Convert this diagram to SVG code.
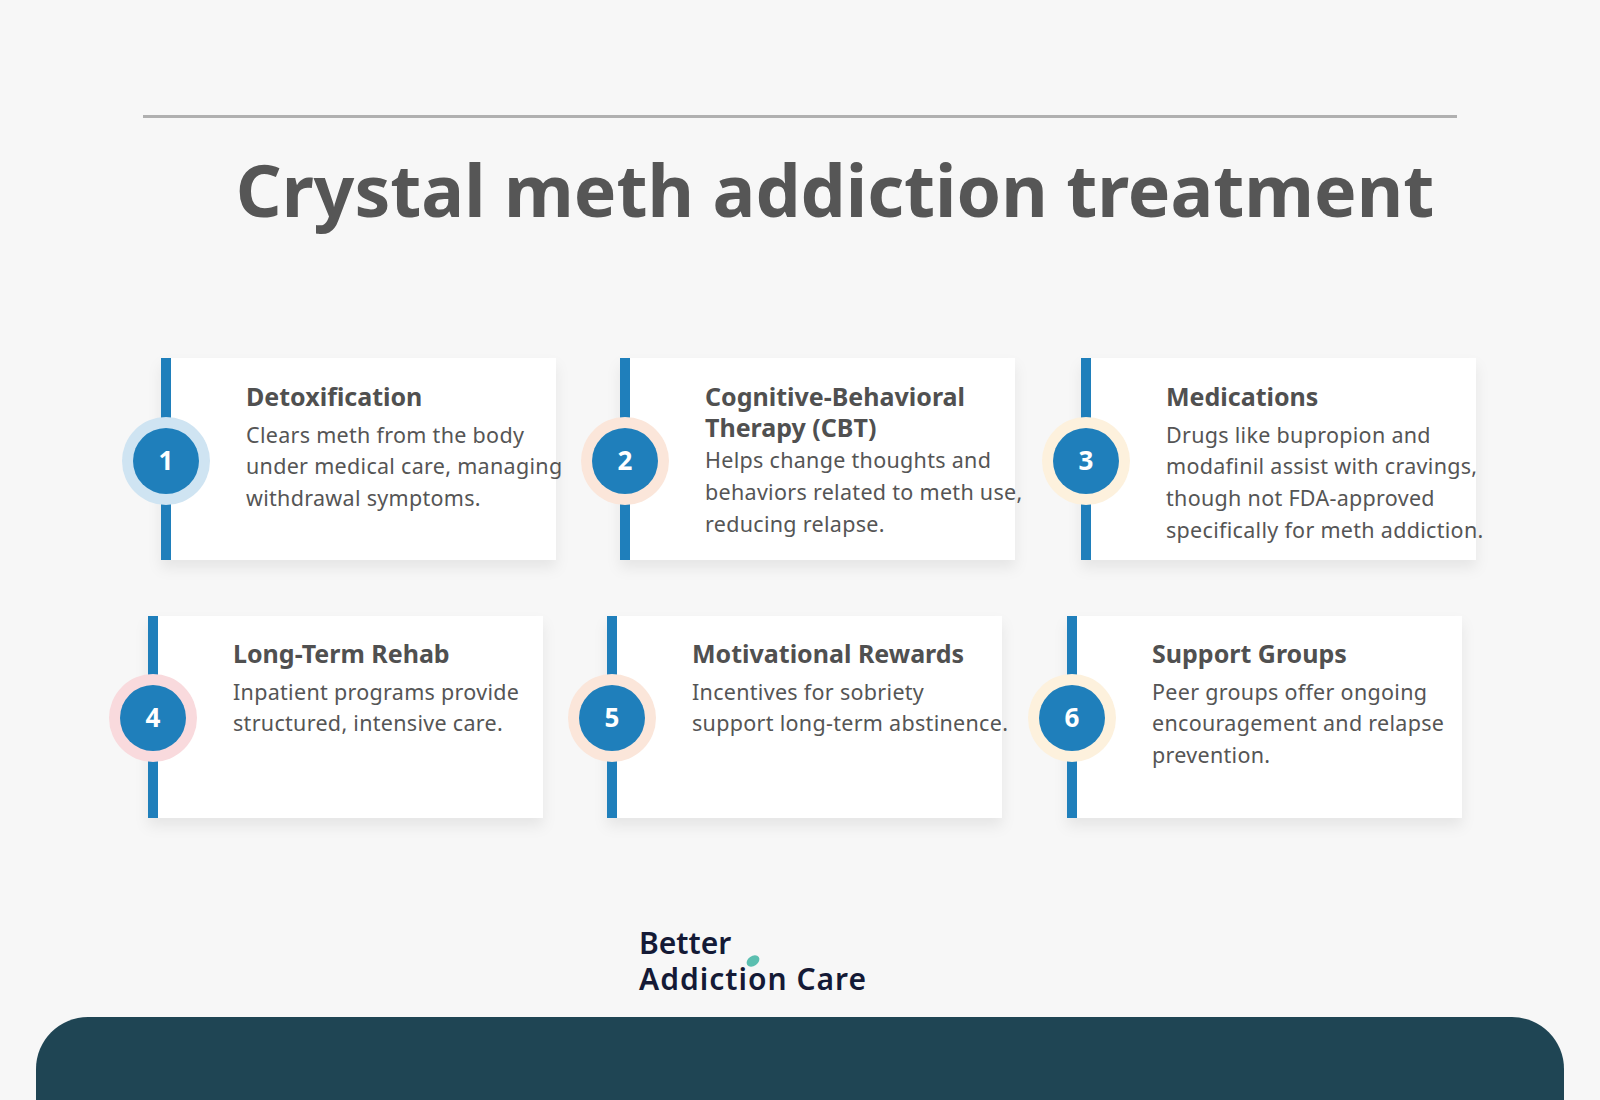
<svg xmlns="http://www.w3.org/2000/svg" width="1600" height="1100" viewBox="0 0 1600 1100">
<defs>
<filter id="sh" x="-10%" y="-10%" width="120%" height="140%"><feDropShadow dx="0" dy="8" stdDeviation="7" flood-color="#000" flood-opacity="0.07"/></filter>
<style>
.card{fill:#fff;filter:url(#sh)}
.bar{fill:#1f7fbb}
.num{fill:#1f7fbb}
.nt{font-family:"Noto Sans","Open Sans",sans-serif;font-weight:700;font-size:26px;fill:#fff;text-anchor:middle}
.h{font-family:"Noto Sans","Open Sans",sans-serif;font-weight:700;font-size:25px;fill:#505050}
.d{font-family:"Noto Sans","Open Sans",sans-serif;font-size:21.5px;fill:#555;letter-spacing:0.3px}
</style>
</defs>
<rect width="1600" height="1100" fill="#f7f7f7"/>
<line x1="143" y1="116.5" x2="1457" y2="116.5" stroke="#b0b0b0" stroke-width="3"/>
<text x="835" y="217" text-anchor="middle" font-family="Noto Sans,'Open Sans',sans-serif" font-weight="700" font-size="71.5" fill="#565656">Crystal meth addiction treatment</text>

<g id="n1">
<rect class="card" x="161" y="358" width="395" height="202"/><rect class="bar" x="161" y="358" width="10" height="202"/>
<circle cx="166" cy="461" r="44" fill="#cfe4f2"/><circle class="num" cx="166" cy="461" r="33"/>
<text class="nt" x="166" y="470">1</text>
<text class="h" x="246" y="406">Detoxification</text>
<text class="d" x="246" y="443">Clears meth from the body</text>
<text class="d" x="246" y="474">under medical care, managing</text>
<text class="d" x="246" y="506">withdrawal symptoms.</text>
</g>
<g id="n2">
<rect class="card" x="620" y="358" width="395" height="202"/><rect class="bar" x="620" y="358" width="10" height="202"/>
<circle cx="625" cy="461" r="44" fill="#fbe6da"/><circle class="num" cx="625" cy="461" r="33"/>
<text class="nt" x="625" y="470">2</text>
<text class="h" x="705" y="406">Cognitive-Behavioral</text>
<text class="h" x="705" y="437">Therapy (CBT)</text>
<text class="d" x="705" y="468">Helps change thoughts and</text>
<text class="d" x="705" y="500">behaviors related to meth use,</text>
<text class="d" x="705" y="532">reducing relapse.</text>
</g>
<g id="n3">
<rect class="card" x="1081" y="358" width="395" height="202"/><rect class="bar" x="1081" y="358" width="10" height="202"/>
<circle cx="1086" cy="461" r="44" fill="#fdf1dd"/><circle class="num" cx="1086" cy="461" r="33"/>
<text class="nt" x="1086" y="470">3</text>
<text class="h" x="1166" y="406">Medications</text>
<text class="d" x="1166" y="443">Drugs like bupropion and</text>
<text class="d" x="1166" y="474">modafinil assist with cravings,</text>
<text class="d" x="1166" y="506">though not FDA-approved</text>
<text class="d" x="1166" y="538">specifically for meth addiction.</text>
</g>
<g id="n4">
<rect class="card" x="148" y="616" width="395" height="202"/><rect class="bar" x="148" y="616" width="10" height="202"/>
<circle cx="153" cy="718" r="44" fill="#f9dadd"/><circle class="num" cx="153" cy="718" r="33"/>
<text class="nt" x="153" y="727">4</text>
<text class="h" x="233" y="663">Long-Term Rehab</text>
<text class="d" x="233" y="700">Inpatient programs provide</text>
<text class="d" x="233" y="731">structured, intensive care.</text>
</g>
<g id="n5">
<rect class="card" x="607" y="616" width="395" height="202"/><rect class="bar" x="607" y="616" width="10" height="202"/>
<circle cx="612" cy="718" r="44" fill="#fbe6da"/><circle class="num" cx="612" cy="718" r="33"/>
<text class="nt" x="612" y="727">5</text>
<text class="h" x="692" y="663">Motivational Rewards</text>
<text class="d" x="692" y="700">Incentives for sobriety</text>
<text class="d" x="692" y="731">support long-term abstinence.</text>
</g>
<g id="n6">
<rect class="card" x="1067" y="616" width="395" height="202"/><rect class="bar" x="1067" y="616" width="10" height="202"/>
<circle cx="1072" cy="718" r="44" fill="#fdf1dd"/><circle class="num" cx="1072" cy="718" r="33"/>
<text class="nt" x="1072" y="727">6</text>
<text class="h" x="1152" y="663">Support Groups</text>
<text class="d" x="1152" y="700">Peer groups offer ongoing</text>
<text class="d" x="1152" y="731">encouragement and relapse</text>
<text class="d" x="1152" y="763">prevention.</text>
</g>
<g id="connectors"/>
<g id="logo">
<text x="639" y="954" font-family="Noto Sans,'Open Sans',sans-serif" font-weight="600" font-size="30" fill="#141a36">Better</text>
<text x="639" y="990" font-family="Noto Sans,'Open Sans',sans-serif" font-weight="600" font-size="30" letter-spacing="1" fill="#141a36">Addiction Care</text>
<ellipse cx="753" cy="961" rx="7" ry="5" fill="#5bbfb0" transform="rotate(-35 753 961)"/>
</g>
<rect x="36" y="1017" width="1528" height="140" rx="52" fill="#1f4554"/>
</svg>
